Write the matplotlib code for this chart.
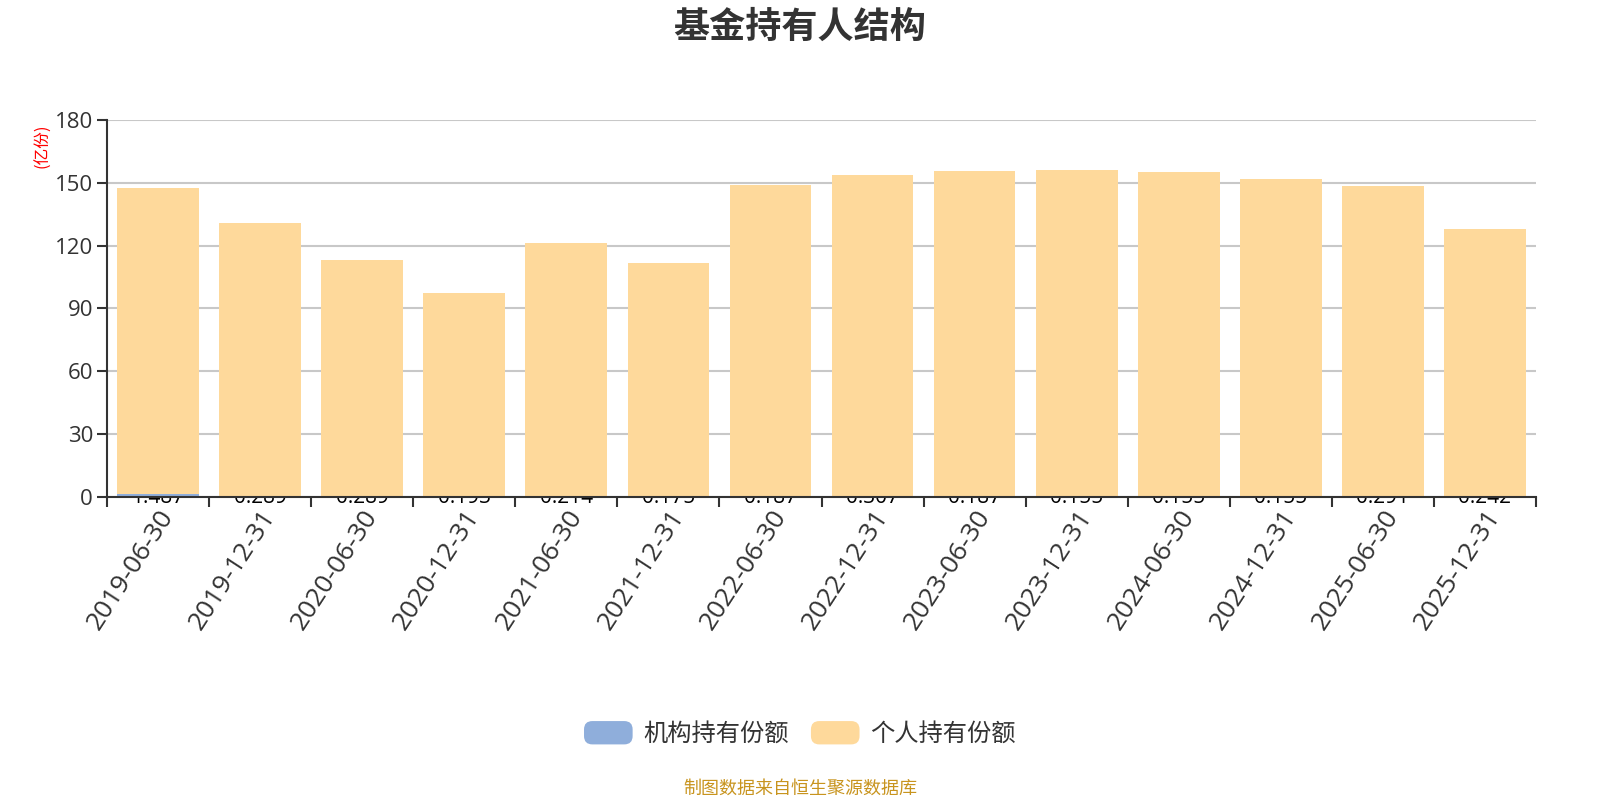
import matplotlib
matplotlib.use("Agg")
import matplotlib.pyplot as plt
from matplotlib.patches import FancyBboxPatch, Patch
from matplotlib.legend_handler import HandlerPatch
import numpy as np

plt.rcParams['font.family'] = ['Open Sans', 'Noto Sans CJK SC', 'DejaVu Sans']
CJK = ['Noto Sans CJK SC', 'DejaVu Sans']

dates = ["2019-06-30", "2019-12-31", "2020-06-30", "2020-12-31", "2021-06-30",
         "2021-12-31", "2022-06-30", "2022-12-31", "2023-06-30", "2023-12-31",
         "2024-06-30", "2024-12-31", "2025-06-30", "2025-12-31"]
institutional = [1.487, 0.289, 0.289, 0.193, 0.214, 0.175, 0.187, 0.307,
                 0.187, 0.155, 0.155, 0.155, 0.291, 0.242]
personal = [146.1, 130.7, 112.9, 97.4, 121.0, 111.4, 148.8, 153.4,
            155.7, 156.0, 155.1, 151.9, 148.0, 127.7]
inst_labels = ["1.487", "0.289", "0.289", "0.193", "0.214", "0.175", "0.187",
               "0.307", "0.187", "0.155", "0.155", "0.155", "0.291", "0.242"]
yticks = [0, 30, 60, 90, 120, 150, 180]

c_inst = "#8FAEDB"
c_pers = "#FED99B"

fig = plt.figure(figsize=(16, 8), dpi=100)
ax = fig.add_axes([107/1600, 1-497/800, (1536-107)/1600, (497-120)/800])

x = np.arange(len(dates))
ax.bar(x, institutional, width=0.8, color=c_inst, zorder=3)
ax.bar(x, personal, width=0.8, bottom=institutional, color=c_pers, zorder=3)

for i, lab in enumerate(inst_labels):
    ax.annotate(lab, (x[i], 0), xytext=(0, -4.5), textcoords='offset points',
                ha='center', va='baseline', fontsize=15, color='black',
                zorder=2, annotation_clip=False, clip_on=False)

ax.set_xlim(-0.5, len(dates) - 0.5)
ax.set_ylim(0, 180)
ax.set_yticks(yticks)
ax.set_yticklabels([str(v) for v in yticks], fontsize=16, color='#333333')
ax.yaxis.grid(True, color='#c8c8c8', linewidth=1.5, zorder=0)
ax.set_axisbelow(True)

# x ticks at category boundaries, labels at centers
ax.set_xticks(np.arange(-0.5, len(dates), 1.0))
ax.set_xticklabels([])
ax.set_xticks(x, minor=True)
ax.set_xticklabels(dates, minor=True, rotation=57, ha='right', va='top',
                   rotation_mode='anchor', fontsize=19, color='#333333')
ax.tick_params(axis='x', which='minor', length=0, pad=6)
ax.tick_params(axis='x', which='major', length=7, width=1.5, color='#333333')
ax.tick_params(axis='y', length=7, width=1.5, color='#333333', pad=3)

for s in ['top', 'right']:
    ax.spines[s].set_visible(False)
for s in ['left', 'bottom']:
    ax.spines[s].set_color('#333333')
    ax.spines[s].set_linewidth(1.5)
    ax.spines[s].set_zorder(4)

fig.text(43/1600, 1-146/800, "(亿份)", rotation=90, color='red', fontsize=12,
         ha='center', va='center', family=CJK)

fig.text(0.5, 1-27/800, "基金持有人结构", fontsize=26, fontweight='bold',
         color='#333333', ha='center', va='center', family=CJK)


class RoundHandler(HandlerPatch):
    def create_artists(self, legend, orig_handle, xdescent, ydescent, width,
                       height, fontsize, trans):
        p = FancyBboxPatch((-xdescent, -ydescent), width, height,
                           boxstyle="round,pad=0,rounding_size=6",
                           facecolor=orig_handle.get_facecolor(),
                           edgecolor='none', transform=trans)
        return [p]


handles = [Patch(color=c_inst, label="机构持有份额"),
           Patch(color=c_pers, label="个人持有份额")]
fig.legend(handles=handles, loc='center', bbox_to_anchor=(0.5, 1-734/800),
           ncol=2, frameon=False, fontsize=17.5, handlelength=2.0,
           handleheight=1.1, columnspacing=0.9, handletextpad=0.45,
           labelcolor='#333333', prop={'family': CJK, 'size': 17.5},
           handler_map={Patch: RoundHandler()})

fig.text(0.5, 1-789/800, "制图数据来自恒生聚源数据库", fontsize=13,
         color='#C8941E', ha='center', va='center', family=CJK)

fig.savefig("out.png", dpi=100)
